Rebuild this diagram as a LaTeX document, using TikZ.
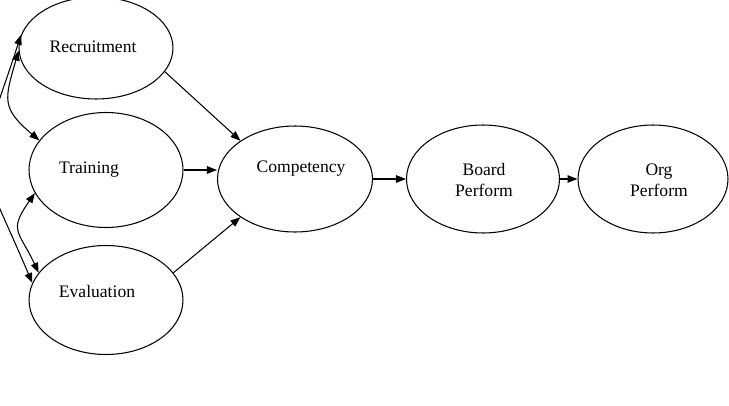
\documentclass[tikz,border=0pt]{standalone}
\usepackage{fontspec}
\setmainfont{Liberation Serif}
\usetikzlibrary{shapes.geometric,arrows.meta}

\begin{document}
\begin{tikzpicture}[
    x=0.02cm, y=0.02cm,
    line width=0.6pt,
    font=\fontsize{10}{12}\selectfont,
    >={Triangle[length=2mm,width=1.5mm]},
    blob/.style={ellipse, draw, inner sep=0pt},
    lbl/.style={align=center, inner sep=1pt},
    link/.style={->},
    corr/.style={<->}
]
\clip (0,0) rectangle (729,-405);

\node[blob, minimum width=3.08cm, minimum height=2.04cm] (rec) at (96,-48) {};
\node[blob, minimum width=3.08cm, minimum height=2.30cm] (trn) at (106,-170) {};
\node[blob, minimum width=3.08cm, minimum height=2.18cm] (eva) at (106,-300) {};
\node[blob, minimum width=3.10cm, minimum height=2.12cm] (cmp) at (295,-179) {};
\node[blob, minimum width=3.06cm, minimum height=2.16cm] (brd) at (483,-179) {};
\node[blob, minimum width=3.00cm, minimum height=2.16cm] (org) at (653,-179) {};

\node[lbl] (rec-t) at (93,-47) {Recruitment};
\node[lbl] (trn-t) at (89,-170) {Training};
\node[lbl] (eva-t) at (97,-291) {Evaluation};
\node[lbl] (cmp-t) at (301,-169) {Competency};
\node[lbl] (brd-t) at (484,-180) {Board\\Perform};
\node[lbl] (org-t) at (659,-180) {Org\\Perform};

% paths into competency
\draw[link] (rec.-19) -- (cmp.145);
\draw[link] (trn.east) -- (trn.east -| cmp.west);
\draw[link] (eva.22) -- (cmp.215);
\draw[link] (cmp.east) -- (brd.west);
\draw[link] (brd.east) -- (org.west);

% correlations on the left
\draw[corr] (rec.182) to[out=-106, in=140, looseness=1.4] (trn.156);
\draw[corr] (rec.170) to[out=-108, in=113, looseness=1.6] (eva.167);
\draw[corr] (trn.198) to[out=-125, in=115, looseness=1.5] (eva.158);
\end{tikzpicture}
\end{document}
